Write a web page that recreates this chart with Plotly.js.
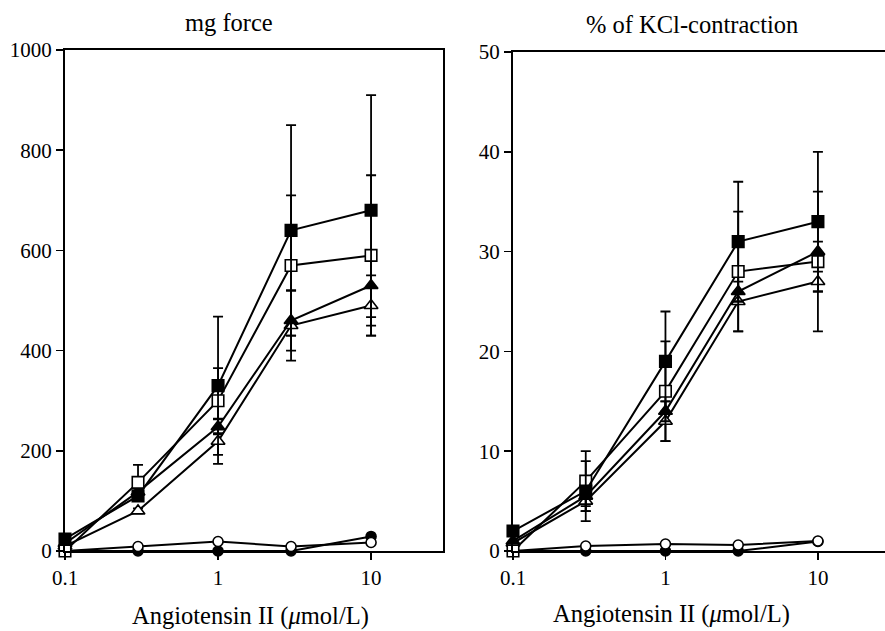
<!DOCTYPE html>
<html>
<head>
<meta charset="utf-8">
<script src="https://cdn.plot.ly/plotly-3.0.1.min.js"></script>
<style>html,body{margin:0;padding:0;background:#fff;}#chart{width:885px;height:631px;}</style>
</head>
<body>
<div id="chart"></div>
<script>
// Angiotensin II concentrations (µmol/L)
const dose = [0.1, 0.3, 1, 3, 10];
const xTickVals = [0.1, 1, 10];
const xTickText = ['0.1', '1', '10'];

// Left panel: mg force
const forceSqFilled = [24, 110, 330, 640, 680];
const forceSqFilledErr = [0, 10, 138, 210, 230];
const forceSqOpen = [0, 137, 300, 570, 590];
const forceSqOpenErr = [0, 35, 65, 140, 160];
const forceTriFilled = [15, 118, 248, 460, 530];
const forceTriFilledErr = [0, 8, 15, 60, 63];
const forceTriOpen = [10, 80, 219, 450, 490];
const forceTriOpenErr = [0, 5, 45, 70, 60];
const forceCircOpen = [0, 9, 19, 9, 17];
const forceCircFilled = [0, 0, 0, 0, 29];

// Right panel: % of KCl-contraction
const kclSqFilled = [2, 6, 19, 31, 33];
const kclSqFilledErr = [0, 3, 5, 6, 7];
const kclSqOpen = [0, 7, 16, 28, 29];
const kclSqOpenErr = [0, 3, 5, 6, 7];
const kclTriFilled = [1, 5.5, 14, 26, 30];
const kclTriFilledErr = [0, 1, 1, 1, 1];
const kclTriOpen = [0.8, 5, 13, 25, 27];
const kclTriOpenErr = [0, 1, 2, 3, 1];
const kclCircOpen = [0, 0.5, 0.7, 0.6, 1];
const kclCircFilled = [0, 0, 0, 0, 0.95];

const LW = 2;
function tr(y, err, sym, filled, size, xa, ya) {
  const t = {
    x: dose, y: y, xaxis: xa, yaxis: ya, type: 'scatter', mode: 'lines+markers',
    line: {color: 'black', width: LW},
    marker: {symbol: sym, size: size, color: filled ? 'black' : 'white',
             line: {color: 'black', width: 1.6}},
    cliponaxis: false, showlegend: false, hoverinfo: 'skip'
  };
  if (err) t.error_y = {type: 'data', array: err, visible: true, color: 'black', thickness: 1.8, width: 5};
  return t;
}

const data = [
  tr(forceCircFilled, null, 'circle', true, 10, 'x', 'y'),
  tr(forceCircOpen, null, 'circle', false, 10, 'x', 'y'),
  tr(forceTriOpen, forceTriOpenErr, 'triangle-up', false, 12, 'x', 'y'),
  tr(forceTriFilled, forceTriFilledErr, 'triangle-up', true, 12, 'x', 'y'),
  tr(forceSqOpen, forceSqOpenErr, 'square', false, 11.5, 'x', 'y'),
  tr(forceSqFilled, forceSqFilledErr, 'square', true, 11.5, 'x', 'y'),
  tr(kclCircFilled, null, 'circle', true, 10, 'x2', 'y2'),
  tr(kclCircOpen, null, 'circle', false, 10, 'x2', 'y2'),
  tr(kclTriOpen, kclTriOpenErr, 'triangle-up', false, 12, 'x2', 'y2'),
  tr(kclTriFilled, kclTriFilledErr, 'triangle-up', true, 12, 'x2', 'y2'),
  tr(kclSqOpen, kclSqOpenErr, 'square', false, 11.5, 'x2', 'y2'),
  tr(kclSqFilled, kclSqFilledErr, 'square', true, 11.5, 'x2', 'y2')
];

const W = 885, H = 631;
const SERIF = '"Liberation Serif", "DejaVu Serif", serif';
const font = {family: SERIF, color: 'black', size: 21};
const titleFont = {family: SERIF, color: 'black', size: 24.5};
const axBase = {
  showline: true, linecolor: 'black', linewidth: 2, ticks: 'outside', ticklen: 7, tickwidth: 1.5,
  tickcolor: 'black', showgrid: false, zeroline: false, tickfont: font
};
const layout = {
  width: W, height: H, margin: {l: 0, r: 0, t: 0, b: 0},
  paper_bgcolor: 'white', plot_bgcolor: 'white', font: font, showlegend: false,
  xaxis: Object.assign({}, axBase, {type: 'log', range: [-1, 1.47], domain: [65 / W, 443 / W],
    tickvals: xTickVals, ticktext: xTickText, mirror: true, anchor: 'y'}),
  yaxis: Object.assign({}, axBase, {range: [0, 1000], domain: [1 - 551 / H, 1 - 50 / H],
    tickvals: [0, 200, 400, 600, 800, 1000], mirror: true, anchor: 'x'}),
  xaxis2: Object.assign({}, axBase, {type: 'log', range: [-1, 1.44], domain: [513 / W, 1],
    tickvals: xTickVals, ticktext: xTickText, mirror: true, anchor: 'y2'}),
  yaxis2: Object.assign({}, axBase, {range: [0, 50], domain: [1 - 551 / H, 1 - 52 / H],
    tickvals: [0, 10, 20, 30, 40, 50], mirror: false, anchor: 'x2'}),
  annotations: [
    {text: 'mg force', x: 229 / W, y: 1 - 22 / H, xref: 'paper', yref: 'paper', showarrow: false,
     xanchor: 'center', yanchor: 'middle', font: titleFont},
    {text: '% of KCl-contraction', x: 692 / W, y: 1 - 24 / H, xref: 'paper', yref: 'paper', showarrow: false,
     xanchor: 'center', yanchor: 'middle', font: titleFont},
    {text: 'Angiotensin II (<i>μ</i>mol/L)', x: 250 / W, y: 1 - 616 / H, xref: 'paper', yref: 'paper', showarrow: false,
     xanchor: 'center', yanchor: 'middle', font: titleFont},
    {text: 'Angiotensin II (<i>μ</i>mol/L)', x: 671 / W, y: 1 - 614 / H, xref: 'paper', yref: 'paper', showarrow: false,
     xanchor: 'center', yanchor: 'middle', font: titleFont}
  ]
};
Plotly.newPlot('chart', data, layout, {staticPlot: true, displayModeBar: false});
</script>
</body>
</html>
